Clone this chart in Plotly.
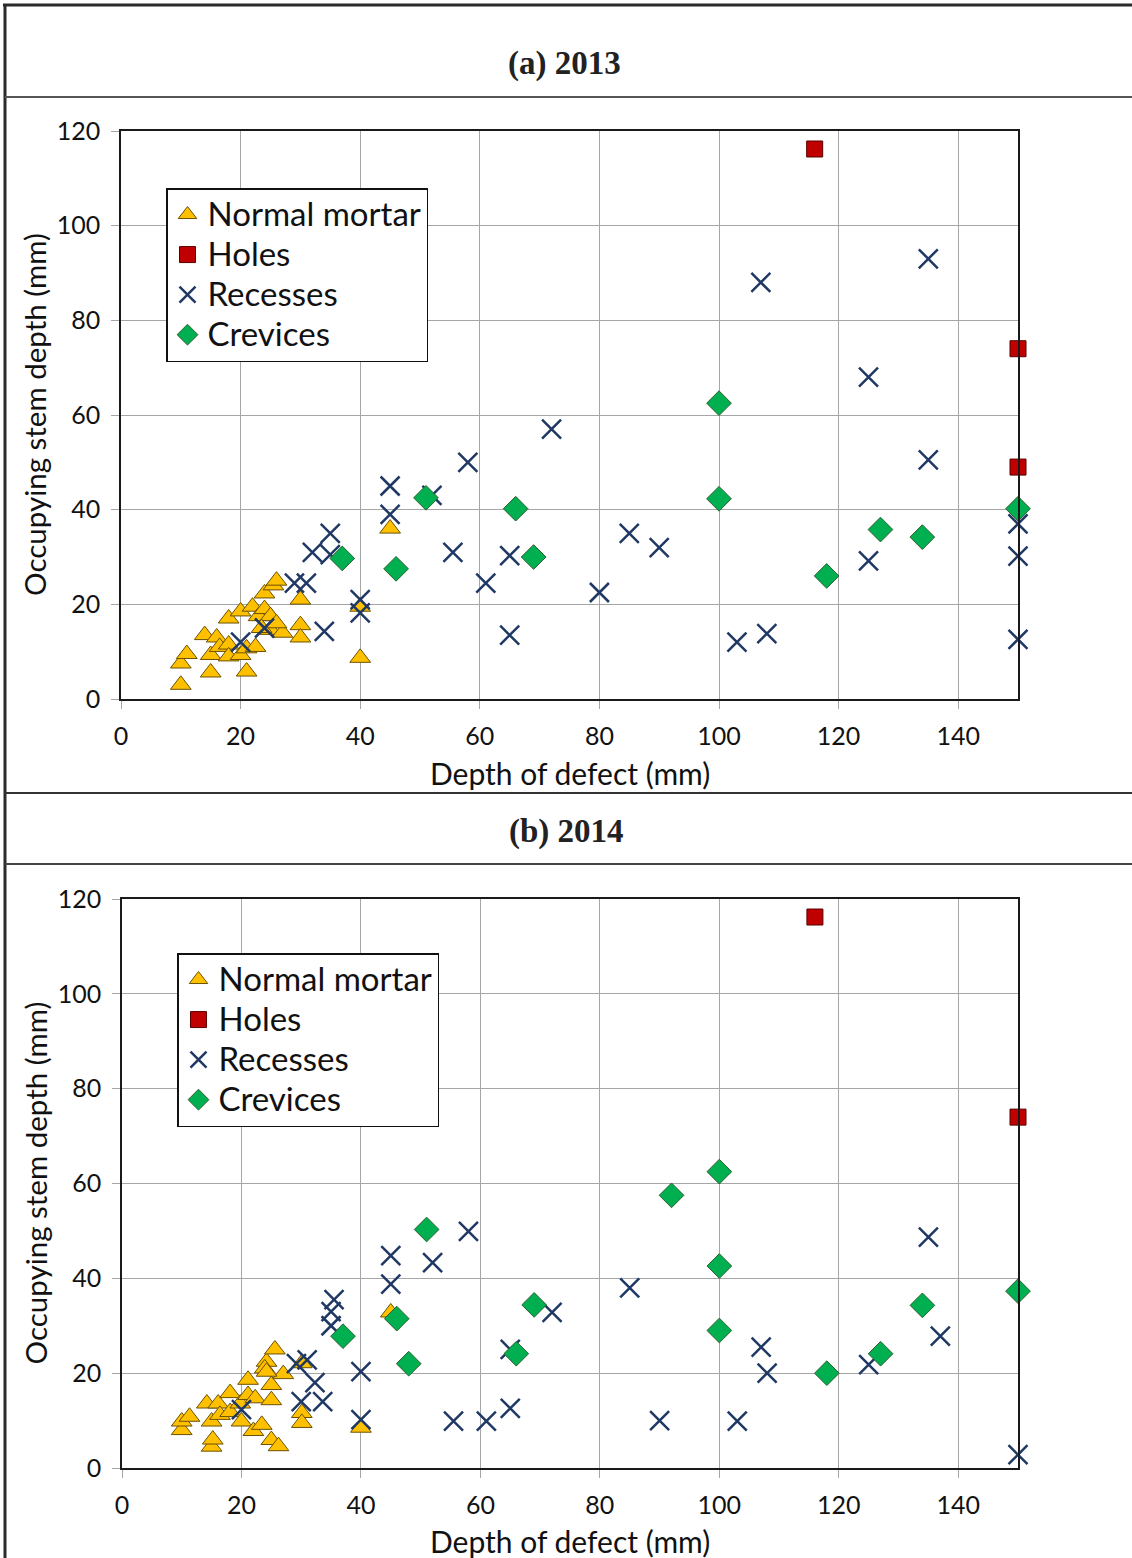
import plotly.graph_objects as go

W, H = 1132, 1558

# ---------------- data ----------------
# Panel (a) 2013
a_mortar_x = [10, 10, 11, 15, 15, 14, 16, 16.5, 18, 18, 18, 20, 20, 21, 21, 22.5, 22, 23, 24, 25.5, 26, 24, 25, 25, 27, 30, 30, 30, 40, 40, 45, 23.5, 26]
a_mortar_y = [3, 7.5, 9.5, 5.6, 9.3, 13.5, 13, 11, 11.5, 9, 17, 18.5, 9.3, 5.8, 10.7, 11, 19.5, 17.5, 22.3, 24, 25, 19, 17.5, 14.6, 14, 21, 15.6, 13, 19.5, 8.7, 36, 15, 16]
a_holes_x = [116, 150, 150]
a_holes_y = [116.2, 74, 49]
a_rec_x = [135, 107, 125, 72, 58, 135, 45, 52, 45, 35, 32, 35, 29, 31, 40, 40, 34, 20, 24, 55.5, 61, 65, 65, 85, 90, 80, 103, 108, 125, 150, 150, 150]
a_rec_y = [93, 88, 68, 57, 50, 50.5, 45, 43, 39, 35, 31, 30.5, 24.5, 24.5, 21, 18.2, 14.3, 12, 15, 31, 24.5, 30.3, 13.5, 35, 32, 22.5, 12, 13.8, 29.2, 37, 30.2, 12.6]
a_crev_x = [37, 46, 51, 66, 69, 100, 100, 118, 127, 134, 150]
a_crev_y = [29.7, 27.5, 42.5, 40.2, 30, 62.5, 42.3, 26, 35.8, 34.2, 40.2]

# Panel (b) 2014
b_mortar_x = [10, 10, 11.3, 15, 15.2, 15, 14.2, 16.1, 16.4, 18.1, 18.1, 19.8, 20, 21.1, 21.1, 22.3, 22, 23.4, 25, 26.2, 24.2, 23.9, 25, 25, 25.6, 27, 30.1, 30.1, 30.1, 40, 45, 24.2]
b_mortar_y = [8, 9.8, 10.8, 4.5, 6, 9.8, 13.6, 13.6, 11.2, 15.8, 11.8, 13.6, 9.8, 18.6, 15.4, 14.7, 7.8, 9.1, 5.9, 4.6, 22.4, 21, 17.5, 14.3, 25, 19.8, 22.1, 11.6, 9.5, 8.5, 32.8, 20.3]
b_holes_x = [116, 150]
b_holes_y = [116.2, 74]
b_rec_x = [20, 29.2, 31, 32.3, 30, 33.6, 35.5, 35, 35, 40, 40, 45, 45, 52, 58, 55.5, 61, 65, 65, 72, 85, 90, 103, 107, 108, 125, 135, 137, 150]
b_rec_y = [12.3, 22, 22.8, 18, 14, 14, 35.5, 33, 30, 20.3, 10.2, 44.8, 38.8, 43.3, 49.9, 9.9, 9.9, 12.6, 25, 32.8, 38, 10, 9.9, 25.5, 20, 21.8, 48.7, 27.8, 2.8]
b_crev_x = [37, 46, 48, 51, 66, 69, 92, 100, 100, 100, 118, 127, 134, 150]
b_crev_y = [27.8, 31.5, 22, 50.3, 24.1, 34.4, 57.5, 62.5, 42.6, 29, 20, 24.1, 34.3, 37.3]

series_names = ["Normal mortar", "Holes", "Recesses", "Crevices"]
panel_titles = ["(a) 2013", "(b) 2014"]
x_title = "Depth of defect (mm)"
y_title = "Occupying stem depth (mm)"
x_ticks = [0, 20, 40, 60, 80, 100, 120, 140]
y_ticks = [0, 20, 40, 60, 80, 100, 120]

# ---------------- styling ----------------
FONT = "Lato"
styles = {
    "Normal mortar": dict(symbol="triangle-up", size=18, color="#FFC000", line=dict(color="#6b5200", width=1)),
    "Holes": dict(symbol="square", size=16, color="#C00000", line=dict(color="#5a0000", width=1)),
    "Recesses": dict(symbol="x-thin-open", size=19, color="#1F3864", line=dict(color="#1F3864", width=2.5)),
    "Crevices": dict(symbol="diamond", size=19, color="#00B050", line=dict(color="#2f5f2f", width=1)),
}

def px2x(px):
    return px / W

def py2y(py):
    return 1 - py / H

fig = go.Figure()

panels = [
    ("x", "y", "legend", [(a_mortar_x, a_mortar_y), (a_holes_x, a_holes_y), (a_rec_x, a_rec_y), (a_crev_x, a_crev_y)]),
    ("x2", "y2", "legend2", [(b_mortar_x, b_mortar_y), (b_holes_x, b_holes_y), (b_rec_x, b_rec_y), (b_crev_x, b_crev_y)]),
]
for xa, ya, lg, data in panels:
    for name, (xs, ys) in zip(series_names, data):
        fig.add_trace(go.Scatter(
            x=xs, y=ys, mode="markers",
            name="<span style='font-size:33px'>" + name + "</span>",
            xaxis=xa, yaxis=ya, legend=lg,
            marker=styles[name], cliponaxis=False, showlegend=True,
            hovertemplate=name + ": (%{x}, %{y})<extra></extra>",
        ))

# plot areas in pixels: (left, right, top, bottom)
areas = [(121, 1018, 131, 699), (122, 1018, 899, 1468)]

axis_common = dict(
    showgrid=True, gridcolor="#a6a6a6", gridwidth=1,
    showline=True, linecolor="#1a1a1a", linewidth=1.5, mirror=True,
    ticks="outside", ticklen=8, tickcolor="#a6a6a6", tickwidth=1,
    tickfont=dict(family=FONT, size=25, color="#111111"),
    zeroline=False, fixedrange=True,
)

layout = dict(
    width=W, height=H, margin=dict(l=0, r=0, t=0, b=0, autoexpand=False),
    paper_bgcolor="white", plot_bgcolor="white", showlegend=True,
)
for i, (l, r, t, b) in enumerate(areas):
    sx = "" if i == 0 else "2"
    layout["xaxis" + sx] = dict(axis_common, domain=[px2x(l), px2x(r)], range=[0, 150],
                                tickvals=x_ticks, anchor="y" + sx, ticklabelstandoff=6)
    layout["yaxis" + sx] = dict(axis_common, domain=[py2y(b), py2y(t)], range=[0, 120],
                                tickvals=y_ticks, anchor="x" + sx, ticklabelstandoff=6)

legend_common = dict(
    bgcolor="white", bordercolor="#111111", borderwidth=1.5,
    font=dict(family=FONT, size=28.5, color="#111111"),
    xanchor="left", yanchor="top", tracegroupgap=0,
)
layout["legend"] = dict(legend_common, x=px2x(166), y=py2y(188))
layout["legend2"] = dict(legend_common, x=px2x(177), y=py2y(953))
fig.update_layout(**layout)

# frame lines
shapes = [
    dict(type="line", xref="paper", yref="paper", x0=px2x(3), x1=1, y0=py2y(5), y1=py2y(5), line=dict(color="#2b2b2b", width=3)),
    dict(type="line", xref="paper", yref="paper", x0=px2x(5), x1=px2x(5), y0=py2y(4), y1=0, line=dict(color="#2b2b2b", width=3)),
    dict(type="line", xref="paper", yref="paper", x0=px2x(5), x1=1, y0=py2y(97), y1=py2y(97), line=dict(color="#555555", width=2)),
    dict(type="line", xref="paper", yref="paper", x0=px2x(5), x1=1, y0=py2y(793), y1=py2y(793), line=dict(color="#333333", width=2)),
    dict(type="line", xref="paper", yref="paper", x0=px2x(5), x1=1, y0=py2y(864), y1=py2y(864), line=dict(color="#444444", width=2)),
]
fig.update_layout(shapes=shapes)

ann = []
title_pos = [(564, 63), (566, 831)]
for txt, (cx, cy) in zip(panel_titles, title_pos):
    ann.append(dict(text="<b>" + txt + "</b>", x=px2x(cx), y=py2y(cy), xref="paper", yref="paper",
                    showarrow=False, xanchor="center", yanchor="middle",
                    font=dict(family="Liberation Serif", size=33, color="#222222")))
for (l, r, t, b), xt_y in zip(areas, [773, 1541]):
    ann.append(dict(text=x_title, x=px2x((l + r) / 2), y=py2y(xt_y), xref="paper", yref="paper",
                    showarrow=False, xanchor="center", yanchor="middle",
                    font=dict(family=FONT, size=30, color="#111111")))
    ann.append(dict(text=y_title, x=px2x(35), y=py2y((t + b) / 2), xref="paper", yref="paper",
                    showarrow=False, xanchor="center", yanchor="middle", textangle=-90,
                    font=dict(family=FONT, size=29.5, color="#111111")))
fig.update_layout(annotations=ann)

fig.write_html("out.html")
